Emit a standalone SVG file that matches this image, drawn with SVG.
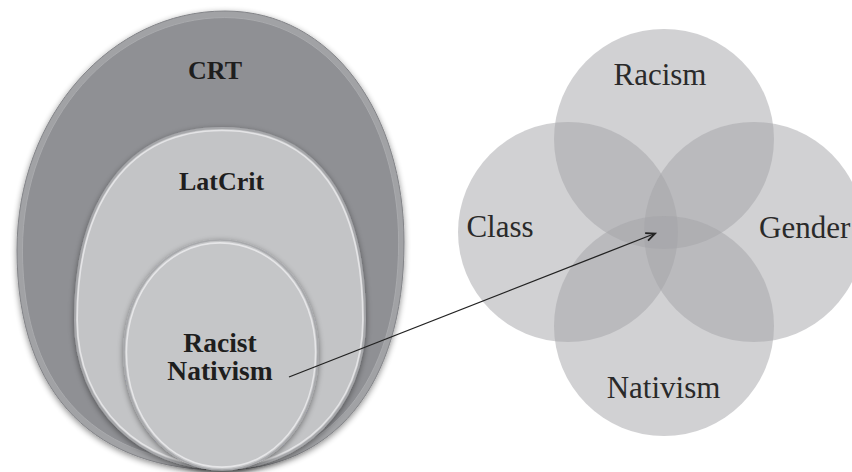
<svg xmlns="http://www.w3.org/2000/svg" width="852" height="472" viewBox="0 0 852 472">
<style>
.lbl{font-family:"Liberation Serif","Times New Roman",serif;font-weight:bold;fill:#1e1e1e;text-anchor:middle}
.vl{font-family:"Liberation Serif","Times New Roman",serif;font-size:31px;fill:#2a2a2a}
.vc{fill:#a3a4a8;fill-opacity:0.5}
.conn{stroke:#222;stroke-width:1.3;fill:none}
</style>
<defs>
<filter id="sh" x="-10%" y="-10%" width="120%" height="125%">
<feGaussianBlur in="SourceAlpha" stdDeviation="3"/>
<feOffset dy="2"/>
<feComponentTransfer><feFuncA type="linear" slope="0.45"/></feComponentTransfer>
<feMerge><feMergeNode/><feMergeNode in="SourceGraphic"/></feMerge>
</filter>
<marker id="ah" markerWidth="12" markerHeight="12" refX="10" refY="5" orient="auto" markerUnits="userSpaceOnUse">
<path d="M1,1 L10,5 L1,9" fill="none" stroke="#222" stroke-width="1.8"/>
</marker>
</defs>
<rect width="852" height="472" fill="#ffffff"/>

<g id="crt">
<path filter="url(#sh)" d="M225,11 C333,11 404,115 404,242 C404,390 330,470 222,470 C100,470 17,400 17,250 C17,115 112,11 225,11 Z" fill="#a1a2a5" stroke="#838488" stroke-width="1"/>
<path transform="translate(212,245) scale(0.972) translate(-212,-245)" d="M225,11 C333,11 404,115 404,242 C404,390 330,470 222,470 C100,470 17,400 17,250 C17,115 112,11 225,11 Z" fill="#8f9094" stroke="#a9aaad" stroke-width="1"/>
<text class="lbl" x="215" y="79" font-size="26">CRT</text>
</g>

<g id="latcrit">
<path filter="url(#sh)" d="M222,128 C318,128 365,200 365,320 C365,410 300,469 222,469 C142,469 75,410 75,320 C75,200 128,128 222,128 Z" fill="#c3c4c6" stroke="#a6a7aa" stroke-width="2"/>
<path transform="translate(221,300) scale(0.985) translate(-221,-300)" d="M222,128 C318,128 365,200 365,320 C365,410 300,469 222,469 C142,469 75,410 75,320 C75,200 128,128 222,128 Z" fill="none" stroke="#e4e4e6" stroke-width="1.6"/>
<text class="lbl" x="221.5" y="190" font-size="26">LatCrit</text>
</g>

<g id="racist-nativism">
<path filter="url(#sh)" d="M220,240 C275,240 318,290 318,352 C318,420 275,470 222,470 C168,470 124,420 124,352 C124,290 166,240 220,240 Z" fill="#c5c6c8" stroke="#a8a9ac" stroke-width="1.6"/>
<path transform="translate(221,355) scale(0.975) translate(-221,-355)" d="M220,240 C275,240 318,290 318,352 C318,420 275,470 222,470 C168,470 124,420 124,352 C124,290 166,240 220,240 Z" fill="none" stroke="#e6e6e8" stroke-width="1.6"/>
<text class="lbl" x="220" y="352" font-size="27.5">Racist</text>
<text class="lbl" x="220" y="380" font-size="27.5">Nativism</text>
</g>

<g id="racism">
<circle class="vc" cx="664" cy="139" r="110"/>
<text class="vl" x="660" y="85" text-anchor="middle">Racism</text>
</g>
<g id="class">
<circle class="vc" cx="568" cy="232" r="110"/>
<text class="vl" x="500" y="237" text-anchor="middle">Class</text>
</g>
<g id="gender">
<circle class="vc" cx="754" cy="232" r="110"/>
<text class="vl" x="759" y="238">Gender</text>
</g>
<g id="nativism">
<circle class="vc" cx="664" cy="326" r="110"/>
<text class="vl" x="663.5" y="398" text-anchor="middle">Nativism</text>
</g>

<g id="connectors">
<line class="conn" x1="289" y1="377" x2="655" y2="233.5" marker-end="url(#ah)"/>
</g>
</svg>
